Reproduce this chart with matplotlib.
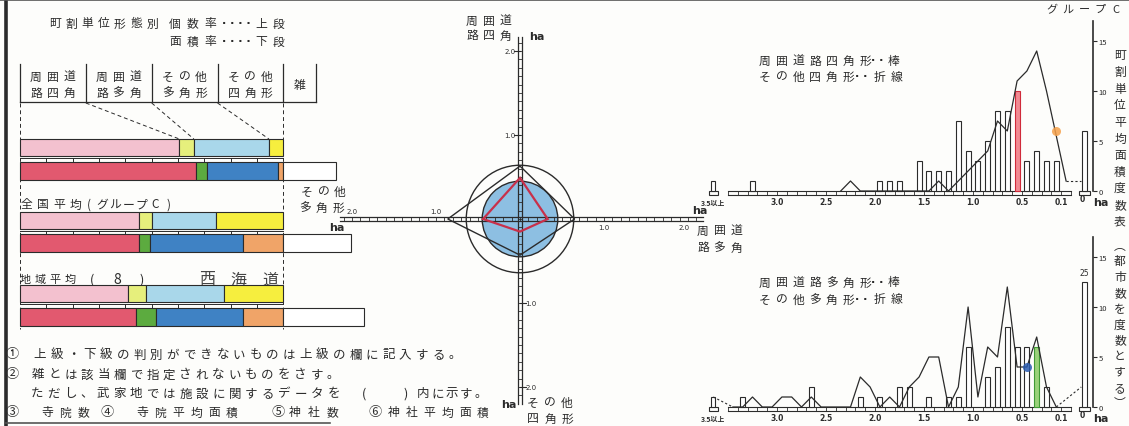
import numpy as np
import matplotlib
matplotlib.use("Agg")
import matplotlib.pyplot as plt
from matplotlib.patches import Circle, Polygon, Rectangle

plt.rcParams["font.family"] = ["Noto Sans CJK JP", "DejaVu Sans"]

W, H = 1129, 427
INK = "#2b2b2b"
PAPER = "#fdfdfb"

# ---- left: 町割単位形態別 個数率(上段) / 面積率(下段), % ----
SEG_NAMES = ["周囲道路四角", "周囲道路多角", "その他多角形", "その他四角形"]
COUNT_CITY = [60.5, 5.5, 28.5, 5.5]
COUNT_NATIONAL = [45, 5, 24.5, 25.5]
COUNT_REGION = [41, 7, 29.5, 22.5]
AREA_CITY = [67, 4, 27, 2]
AREA_NATIONAL = [45, 4.5, 35, 15.5]
AREA_REGION = [44, 7.5, 33, 15.5]
MISC_AREA = [20, 25.5, 30.5]          # 雑 (white box past 100%)
COLS_COUNT = ["#f3c1cf", "#e6ef7c", "#a9d7ea", "#f6ee3e"]
COLS_AREA = ["#e2596f", "#5cab3f", "#3f82c4", "#f0a468"]

# ---- centre: mean area per form (ha), up / right / down / left ----
RADAR_CITY = [0.49, 0.33, 0.15, 0.44]
RADAR_NATIONAL = [0.63, 0.65, 0.43, 0.86]
CIRCLE_INNER = 0.45
CIRCLE_OUTER = 0.64

# ---- right: frequency tables (number of towns) by mean area class ----
SQ_BAR_X = [3.25, 1.95, 1.85, 1.75, 1.55, 1.45, 1.35, 1.25, 1.15, 1.05, 0.95,
            0.85, 0.75, 0.65, 0.55, 0.45, 0.35, 0.25, 0.15]
SQ_BAR_N = [1, 1, 1, 1, 3, 2, 2, 2, 7, 4, 3, 5, 8, 8, 10, 3, 4, 3, 3]
SQ_BAR_OVER, SQ_BAR_ZERO = 1, 6
SQ_LINE_X = [2.35, 2.25, 2.15, 1.45, 1.35, 1.25, 1.15, 1.05, 0.95, 0.85, 0.75,
             0.65, 0.55, 0.45, 0.35, 0.25, 0.15, 0.05]
SQ_LINE_N = [0, 1, 0, 0, 1, 0, 1, 2, 3, 4, 7, 6, 11, 12, 14, 10, 5.5, 1]
SQ_LINE_ZERO = 1
SQ_HILITE = 0.55
SQ_DOT = (0.15, 6)

PL_BAR_X = [3.35, 2.65, 2.15, 1.95, 1.75, 1.65, 1.45, 1.25, 1.15, 1.05, 0.85,
            0.75, 0.65, 0.55, 0.45, 0.35, 0.25]
PL_BAR_N = [1, 2, 1, 1, 2, 2, 1, 1, 1, 6, 3, 4, 8, 6, 6, 6, 2]
PL_BAR_OVER, PL_BAR_ZERO = 1, 25
PL_LINE_X = [3.45, 3.35, 3.25, 3.15, 3.05, 2.95, 2.85, 2.75, 2.65, 2.55, 2.25,
             2.15, 2.05, 1.95, 1.85, 1.75, 1.65, 1.55, 1.45, 1.35, 1.25, 1.15,
             1.05, 0.95, 0.85, 0.75, 0.65, 0.55, 0.45, 0.35, 0.25, 0.15]
PL_LINE_N = [0, 0, 1, 0, 0, 1, 1, 0, 1, 0, 0, 3, 2, 0, 1, 0, 2, 3, 5, 5, 0, 2,
             10, 1, 6, 5, 12, 4, 4, 7, 2, 0]
PL_LINE_OVER, PL_LINE_ZERO = 1, 2
PL_HILITE = 0.35
PL_DOT = (0.45, 4)

OVER_POS, ZERO_POS = 3.65, -0.135     # where the "3.5以上" and "0" classes sit
XTICKS = [3.0, 2.5, 2.0, 1.5, 1.0, 0.5, 0.1]

fig = plt.figure(figsize=(W / 100, H / 100), dpi=100, facecolor=PAPER)


def px_axes(x0, y0, w, h):
    ax = fig.add_axes([x0 / W, 1 - (y0 + h) / H, w / W, h / H])
    ax.set_facecolor("none")
    return ax


def spaced(ax, x, y, s, pitch, fs, **kw):
    kw.setdefault("color", INK)
    for i, ch in enumerate(s):
        if ch != " ":
            ax.text(x + i * pitch, y, ch, fontsize=fs, ha="center", va="center", **kw)


def dots(ax, x, y, n):
    ax.text(x, y, " ".join(["·"] * n), fontsize=8, fontweight="bold", ha="left",
            va="center", color=INK, family="DejaVu Sans")


bg = px_axes(0, 0, W, H)
bg.set_xlim(0, W); bg.set_ylim(H, 0); bg.axis("off")
# frame
bg.plot([6, 6], [0, H], color=INK, lw=2.6)
bg.plot([0, W], [1, 1], color="#555", lw=1.2)
bg.plot([6, 330], [424, 424], color="#555", lw=1.2)

# ======================= left panel =======================
K = 2.634  # px per %
axl = px_axes(0, 0, 380, H)
axl.set_xlim(-20 / K, 360 / K); axl.set_ylim(H, 0); axl.axis("off")

UP_TOP, UP_H = [140, 213, 286], 17
LO_TOP, LO_H = [163, 235, 309], 18
counts = [COUNT_CITY, COUNT_NATIONAL, COUNT_REGION]
areas = [AREA_CITY, AREA_NATIONAL, AREA_REGION]

# header table
for p in [0, 25, 50, 75, 100, 112.5]:
    axl.plot([p, p], [65, 103], color=INK, lw=0.9)
axl.plot([0, 112.5], [103, 103], color=INK, lw=0.9)
# dashed guides
axl.plot([0, 0], [104, 330], color=INK, lw=0.7, ls=(0, (4, 3)), zorder=0)
axl.plot([100, 100], [104, 330], color=INK, lw=0.7, ls=(0, (4, 3)), zorder=0)
bounds = np.cumsum(COUNT_CITY)[:3]
for p, b in zip([25, 50, 75], bounds):
    axl.plot([p, b], [104, UP_TOP[0]], color=INK, lw=0.7, ls=(0, (4, 3)))

for i in range(3):
    c = np.array(counts[i]); a = np.array(areas[i])
    axl.barh(UP_TOP[i] + UP_H / 2, c, left=np.r_[0, np.cumsum(c)[:-1]], height=UP_H,
             color=COLS_COUNT, edgecolor=INK, linewidth=0.8, zorder=2)
    axl.barh(LO_TOP[i] + LO_H / 2, a, left=np.r_[0, np.cumsum(a)[:-1]], height=LO_H,
             color=COLS_AREA, edgecolor=INK, linewidth=0.8, zorder=2)
    axl.barh(LO_TOP[i] + LO_H / 2, MISC_AREA[i], left=100, height=LO_H,
             color="white", edgecolor=INK, linewidth=0.8, zorder=2)
    yl = UP_TOP[i] + UP_H + 1.5
    axl.plot([0, 100], [yl, yl], color=INK, lw=0.7)
    for t in range(10, 100, 10):
        axl.plot([t, t], [yl, LO_TOP[i]], color=INK, lw=0.7)

# titles and labels
spaced(bg, 55, 24, "町割単位形態別", 16.2, 8.5)
spaced(bg, 175, 24, "個数率", 17.5, 8.5)
dots(bg, 222, 24, 4)
spaced(bg, 261, 24, "上段", 17, 8.5)
spaced(bg, 175, 42, "面積率", 17.5, 8.5)
dots(bg, 222, 42, 4)
spaced(bg, 261, 42, "下段", 17, 8.5)
for cx, (l1, l2) in zip([52.5, 118.5, 184.5, 250],
                        [("周囲道", "路四角"), ("周囲道", "路多角"),
                         ("その他", "多角形"), ("その他", "四角形")]):
    spaced(bg, cx - 16.5, 77, l1, 16.5, 8.5)
    spaced(bg, cx - 16.5, 93, l2, 16.5, 8.5)
spaced(bg, 300, 85, "雑", 16, 8.5)
spaced(bg, 26, 205, "全国平均", 16.5, 8.5)
spaced(bg, 89, 205, "(グループC)", 13.2, 8.5)
spaced(bg, 25, 280, "地域平均", 15, 8)
spaced(bg, 92, 280, "(", 1, 9)
spaced(bg, 117, 280, "8", 1, 10)
spaced(bg, 142, 280, ")", 1, 9)
spaced(bg, 207, 280, "西海道", 31.5, 11.5, color="#444")

# notes
spaced(bg, 12, 355, "①", 1, 9.5)
spaced(bg, 40, 355, "上級・下級の判別ができないものは上級の欄に記入する。", 16.6, 9)
spaced(bg, 12, 375, "②", 1, 9.5)
spaced(bg, 38, 375, "雑とは該当欄で指定されないものをさす。", 16.4, 9)
spaced(bg, 37, 394, "ただし、武家地では施設に関するデータを", 16.5, 9)
spaced(bg, 364, 394, "(", 1, 9)
spaced(bg, 406, 394, ")", 1, 9)
spaced(bg, 423, 394, "内に示す。", 14.5, 9)
for x0, mark, xs, s, pitch in [(12, "③", 47, "寺院数", 18), (107, "④", 142, "寺院平均面積", 18),
                               (278, "⑤", 295, "神社数", 18.5), (375, "⑥", 394, "神社平均面積", 17.8)]:
    spaced(bg, x0, 413, mark, 1, 9.5)
    spaced(bg, xs, 413, s, pitch, 8.5)

# ======================= centre panel =======================
S = 84.0  # px per ha
CX, CY = 520, 220
axc = px_axes(330, 0, 390, H)
axc.set_xlim((330 - CX) / S, (720 - CX) / S)
axc.set_ylim((CY - H) / S, CY / S)
axc.axis("off")

axc.add_patch(Circle((0, 0), CIRCLE_INNER, facecolor="#8dbfe2", edgecolor=INK, lw=1.0, zorder=1))
axc.add_patch(Circle((0, 0), CIRCLE_OUTER, facecolor="none", edgecolor=INK, lw=1.0, zorder=3))
u, r, d, l = RADAR_NATIONAL
axc.add_patch(Polygon([(0, u), (r, 0), (0, -d), (-l, 0)], closed=True, fill=False,
                      edgecolor=INK, lw=1.0, zorder=3))
u, r, d, l = RADAR_CITY
axc.add_patch(Polygon([(0, u), (r, 0), (0, -d), (-l, 0)], closed=True, fill=False,
                      edgecolor="#c8304a", lw=1.6, zorder=4))

# rulers
hw = 0.028
axc.plot([-2.14, 2.18], [hw, hw], color=INK, lw=0.9, zorder=2)
axc.plot([-2.14, 2.18], [-hw, -hw], color=INK, lw=0.9, zorder=2)
for t in np.arange(-2.1, 2.15, 0.1):
    axc.plot([t, t], [-hw, hw], color=INK, lw=0.6, zorder=2)
vw = 0.02
axc.plot([vw, vw], [-2.2, 2.17], color=INK, lw=0.9, zorder=2)
axc.plot([-vw, -vw], [-2.2, 2.17], color=INK, lw=0.9, zorder=2)
for t in np.arange(-2.1, 2.15, 0.1):
    axc.plot([-vw, vw], [t, t], color=INK, lw=0.6, zorder=2)
for t in [1.0, 2.0]:
    axc.plot([-0.07, 0.0], [t, t], color=INK, lw=0.8)
    axc.plot([0.0, 0.07], [-t, -t], color=INK, lw=0.8)

tk = dict(fontsize=5, color=INK, family="DejaVu Sans")
axc.text(-0.05, 2.0, "2.0", ha="right", va="center", **tk)
axc.text(-0.05, 1.0, "1.0", ha="right", va="center", **tk)
axc.text(0.06, -1.0, "1.0", ha="left", va="center", **tk)
axc.text(0.06, -2.0, "2.0", ha="left", va="center", **tk)
axc.text(1.0, -0.1, "1.0", ha="center", va="center", **tk)
axc.text(1.95, -0.09, "2.0", ha="center", va="center", **tk)
axc.text(-2.0, 0.09, "2.0", ha="center", va="center", **tk)
axc.text(-1.0, 0.09, "1.0", ha="center", va="center", **tk)
hk = dict(fontsize=8, fontweight="bold", color=INK, family="DejaVu Sans", ha="center", va="center")
axc.text(0.2, 2.18, "ha", **hk)
axc.text(2.14, 0.11, "ha", **hk)
axc.text(-2.18, -0.1, "ha", **hk)
axc.text(-0.13, -2.2, "ha", **hk)

spaced(bg, 472, 21, "周囲道", 16.5, 8.5)
spaced(bg, 472, 36, "路四角", 16.5, 8.5)
spaced(bg, 703, 231, "周囲道", 16.5, 8.5)
spaced(bg, 703, 248, "路多角", 16.5, 8.5)
spaced(bg, 307, 192, "その他", 16.5, 8.5)
spaced(bg, 305, 208, "多角形", 16.5, 8.5)
spaced(bg, 533, 403, "その他", 17, 8.5)
spaced(bg, 533, 419, "四角形", 17, 8.5)

# ======================= right panels =======================
PXHA = 98.0
XL, XR = 0.5 + (1022 - 704) / PXHA, 0.5 - (1093 - 1022) / PXHA
axt = px_axes(704, 22, 389, 198)
axb = px_axes(704, 238, 389, 189)
axt.set_ylim(-2.8, 17)
axb.set_ylim(-1.9, 17)


def hist_panel(ax, bar_x, bar_n, over, zero_h, zero_lbl, line_x, line_n,
               line_zero, hi_x, hi_col, hi_face, dot, dot_col, line_over=None):
    ax.set_xlim(XL, XR)
    for sp in ["top", "left", "bottom"]:
        ax.spines[sp].set_visible(False)
    ax.spines["right"].set_bounds(0, 17)
    ax.spines["right"].set_linewidth(1.2)
    ax.spines["right"].set_color(INK)
    ax.yaxis.tick_right()
    ax.set_yticks([0, 5, 10, 15])
    ax.tick_params(axis="y", direction="out", length=3, labelsize=5.5, pad=1, colors=INK)
    ax.set_xticks([])
    # ruler
    ax.plot([3.5, 0.0], [0, 0], color=INK, lw=0.8)
    ax.plot([3.5, 0.0], [-0.4, -0.4], color=INK, lw=0.8)
    for t in np.arange(0.0, 3.51, 0.1):
        ax.plot([t, t], [-0.4, 0], color=INK, lw=0.6)
    ax.add_patch(Rectangle((-0.19, -0.4), 0.11, 0.4, fill=False, ec=INK, lw=0.8))
    ax.add_patch(Rectangle((OVER_POS - 0.045, -0.4), 0.09, 0.4, fill=False, ec=INK, lw=0.8))
    # bars
    cols = [hi_col if abs(x - hi_x) < 1e-6 else INK for x in bar_x]
    faces = [hi_face if abs(x - hi_x) < 1e-6 else "white" for x in bar_x]
    ax.bar(bar_x, bar_n, width=0.05, facecolor=faces, edgecolor=cols, lw=0.8, zorder=3)
    ax.bar([OVER_POS], [over], width=0.04, facecolor="white", edgecolor=INK, lw=0.8, zorder=3)
    ax.bar([ZERO_POS], [zero_h], width=0.05, facecolor="white", edgecolor=INK, lw=0.8, zorder=3)
    if zero_lbl:
        ax.text(ZERO_POS, zero_h + 0.9, zero_lbl, fontsize=5.5, ha="center", va="center",
                color=INK, family="DejaVu Sans")
    # line
    ax.plot(line_x, line_n, color=INK, lw=0.9, zorder=4)
    ax.plot([line_x[-1], ZERO_POS + 0.03], [line_n[-1], line_zero], color=INK, lw=0.8,
            ls=(0, (2, 2)), zorder=4)
    if line_over is not None:
        ax.plot([OVER_POS, line_x[0]], [line_over, line_n[0]], color=INK, lw=0.8,
                ls=(0, (2, 2)), zorder=4)
    ax.plot([dot[0]], [dot[1]], "o", ms=6.5, color=dot_col, alpha=0.85, zorder=5, mec="none")
    # x labels
    lk = dict(fontsize=5.5, fontweight="bold", color=INK, ha="center", va="center", clip_on=False)
    for v in XTICKS:
        ax.text(v, -1.1, f"{v:.1f}", family="DejaVu Sans", **lk)
    ax.text(OVER_POS, -1.1, "3.5以上", **dict(lk, fontsize=5))
    ax.text(ZERO_POS + 0.02, -0.75, "0", family="DejaVu Sans", **lk)
    ax.text(-0.30, -1.15, "ha", family="DejaVu Sans", **dict(lk, fontsize=8))


hist_panel(axt, SQ_BAR_X, SQ_BAR_N, SQ_BAR_OVER, SQ_BAR_ZERO, None, SQ_LINE_X, SQ_LINE_N,
           SQ_LINE_ZERO, SQ_HILITE, "#d02a3a", "#f08a92", SQ_DOT, "#f5a04a")
hist_panel(axb, PL_BAR_X, PL_BAR_N, PL_BAR_OVER, PL_BAR_ZERO / 2, f"{PL_BAR_ZERO}",
           PL_LINE_X, PL_LINE_N, PL_LINE_ZERO, PL_HILITE, "#3f9a35", "#9ad27a", PL_DOT,
           "#2a5cb0", line_over=PL_LINE_OVER)

# legends
spaced(bg, 765, 61, "周囲道路四角形", 16.7, 8.5)
dots(bg, 871, 61, 2)
spaced(bg, 893, 61, "棒", 1, 8.5)
spaced(bg, 765, 77, "その他四角形", 16.6, 8.5)
dots(bg, 855, 77, 2)
spaced(bg, 880, 77, "折線", 17, 8.5)
spaced(bg, 765, 283, "周囲道路多角形", 16.7, 8.5)
dots(bg, 871, 283, 2)
spaced(bg, 893, 283, "棒", 1, 8.5)
spaced(bg, 765, 300, "その他多角形", 16.6, 8.5)
dots(bg, 855, 300, 2)
spaced(bg, 880, 300, "折線", 17, 8.5)

spaced(bg, 1052, 10, "グループC", 16, 8)
for i, ch in enumerate("町割単位平均面積度数表"):
    bg.text(1120, 56 + i * 16.6, ch, fontsize=8.5, ha="center", va="center", color=INK)
for i, ch in enumerate("︵都市数を度数とする︶"):
    bg.text(1120, 246 + i * 15.8, ch, fontsize=8.5, ha="center", va="center", color=INK)

fig.savefig("out.png", dpi=100, facecolor=PAPER)
